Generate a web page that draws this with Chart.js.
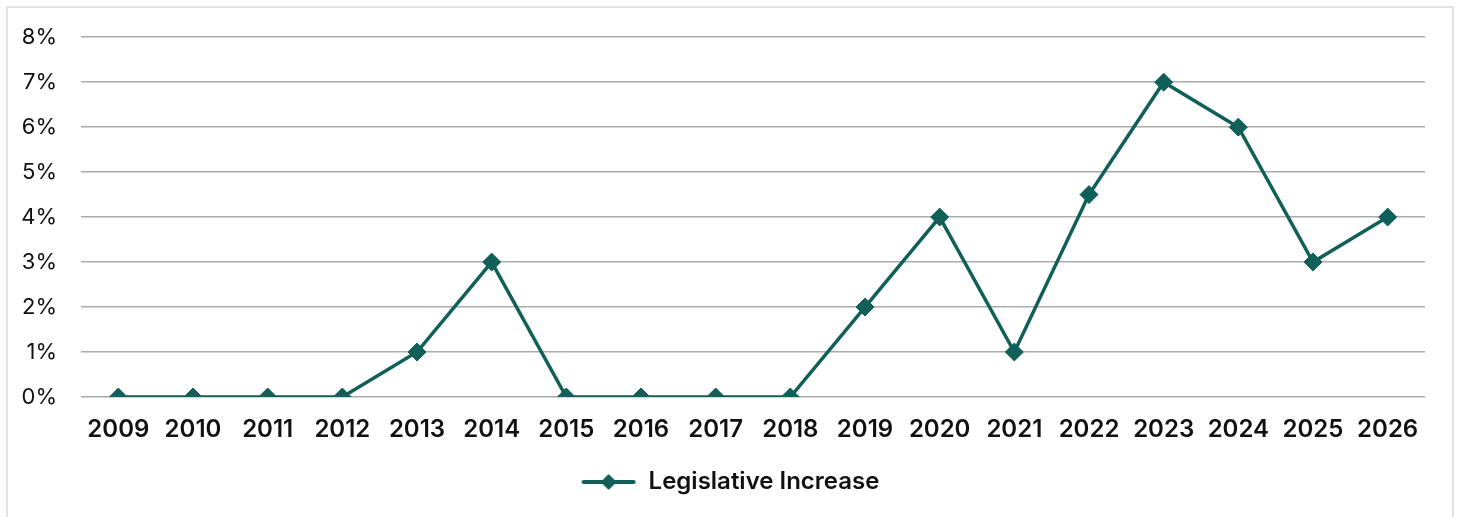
<!DOCTYPE html>
<html>
<head>
<meta charset="utf-8">
<script src="https://cdn.jsdelivr.net/npm/chart.js@4/dist/chart.umd.min.js"></script>
<style>
  html, body { margin: 0; padding: 0; background: #fff; }
  #frame {
    position: absolute; left: 6px; top: 6px; width: 1448px; height: 520px;
    border: 2px solid #e3e3e3; box-sizing: border-box;
  }
  #wrap { position: absolute; left: 0; top: 0; width: 1460px; height: 517px; }
</style>
</head>
<body>
<div id="frame"></div>
<div id="wrap"><canvas id="chart"></canvas></div>
<script>
// Annual legislative increase, in percent
const years = ['2009', '2010', '2011', '2012', '2013', '2014', '2015', '2016', '2017',
               '2018', '2019', '2020', '2021', '2022', '2023', '2024', '2025', '2026'];
const increase = [0, 0, 0, 0, 1, 3, 0, 0, 0, 0, 2, 4, 1, 4.5, 7, 6, 3, 4];
const yTicks = [0, 1, 2, 3, 4, 5, 6, 7, 8];

const TEAL = '#115f59';
const FONT = "Inter, 'Noto Sans', sans-serif";

// Legend marker: short line with a diamond in the middle
function legendMarker() {
  const c = document.createElement('canvas');
  c.width = 56; c.height = 20;
  const g = c.getContext('2d');
  g.strokeStyle = TEAL;
  g.lineWidth = 4;
  g.lineCap = 'round';
  g.beginPath(); g.moveTo(3, 10); g.lineTo(53, 10); g.stroke();
  g.fillStyle = TEAL;
  g.beginPath(); g.moveTo(28, 2); g.lineTo(36, 10); g.lineTo(28, 18); g.lineTo(20, 10); g.closePath(); g.fill();
  return c;
}

document.addEventListener('DOMContentLoaded', () => {
  const marker = legendMarker();
  new Chart(document.getElementById('chart'), {
    type: 'line',
    data: {
      labels: years,
      datasets: [{
        label: 'Legislative Increase',
        data: increase,
        borderColor: TEAL,
        backgroundColor: TEAL,
        borderWidth: 3.5,
        pointStyle: 'rectRot',
        pointRadius: 9,
        pointBorderWidth: 1,
        tension: 0
      }]
    },
    options: {
      responsive: true,
      maintainAspectRatio: false,
      animation: false,
      layout: { padding: { left: 0, right: 0, top: 20, bottom: 13 } },
      plugins: {
        tooltip: { enabled: false },
        legend: {
          position: 'bottom',
          labels: {
            usePointStyle: true,
            pointStyleWidth: 56,
            color: '#111',
            font: { family: FONT, size: 24, weight: '600' },
            padding: 17,
            generateLabels: chart => chart.data.datasets.map((ds, i) => ({
              text: ds.label,
              fillStyle: TEAL,
              strokeStyle: TEAL,
              pointStyle: marker,
              fontColor: '#111',
              datasetIndex: i
            }))
          }
        }
      },
      scales: {
        x: {
          offset: true,
          grid: { display: false },
          border: { display: false },
          afterFit: axis => { axis.height = 56; },
          ticks: {
            color: '#111',
            padding: 10,
            font: { family: FONT, size: 24, weight: '600' },
            maxRotation: 0
          }
        },
        y: {
          min: 0,
          max: 8,
          afterBuildTicks: axis => { axis.ticks = yTicks.map(v => ({ value: v })); },
          afterFit: axis => { axis.width = 81; },
          grid: { color: '#ababab', lineWidth: 1.5, drawTicks: false },
          border: { display: false },
          ticks: {
            color: '#111',
            padding: 24,
            font: { family: FONT, size: 22 },
            callback: v => v + '%'
          }
        },
        // empty right-hand spacer so the plot stops short of the frame
        spacer: {
          type: 'linear',
          position: 'right',
          grid: { display: false },
          border: { display: false },
          ticks: { display: false },
          afterFit: axis => { axis.width = 35; }
        }
      }
    }
  });
});
</script>
</body>
</html>
